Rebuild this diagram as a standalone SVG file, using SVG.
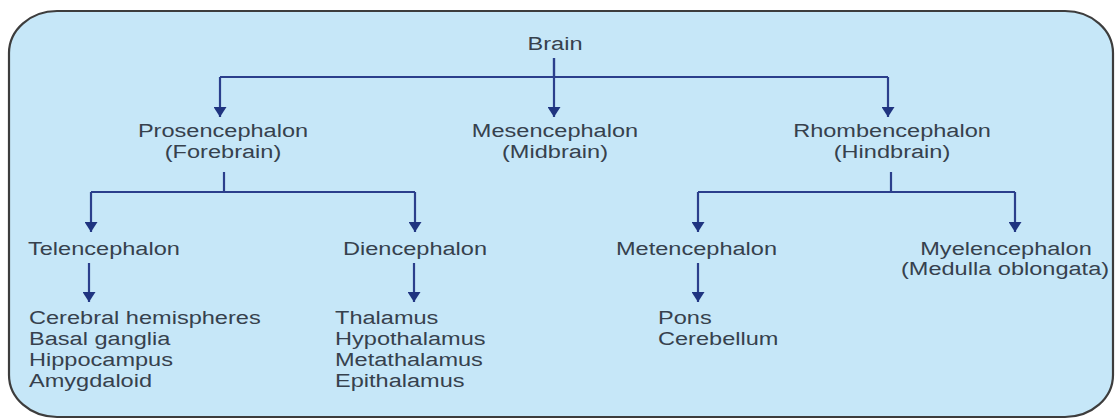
<svg xmlns="http://www.w3.org/2000/svg" width="1117" height="420" viewBox="0 0 1117 420">
<style>
.t{font-family:"Liberation Sans",Arial,sans-serif;font-size:19px;fill:#36414d}
.c{text-anchor:middle}
.ln{stroke:#2b3f8c;stroke-width:2.2;fill:none}
.ar{stroke:#2b3f8c;stroke-width:2.2;fill:none;marker-end:url(#ah)}
</style>
<defs>
<marker id="ah" markerUnits="userSpaceOnUse" markerWidth="11" markerHeight="13" viewBox="0 0 11 13" refX="10" refY="6.5" orient="auto">
<path d="M0,0 L10,6.5 L0,13 Z" fill="#1f3480"/>
</marker>
</defs>
<rect x="9" y="11" width="1104" height="406" rx="48" ry="42" fill="#c6e7f8" stroke="#3d3d3d" stroke-width="2.2"/>
<g id="connectors">
<line class="ln" x1="554" y1="58" x2="554" y2="77"/>
<line class="ln" x1="220" y1="77" x2="888" y2="77"/>
<line class="ar" x1="220" y1="77" x2="220" y2="117"/>
<line class="ar" x1="554" y1="58" x2="554" y2="117"/>
<line class="ar" x1="888" y1="77" x2="888" y2="117"/>
<line class="ln" x1="224" y1="172" x2="224" y2="192"/>
<line class="ln" x1="91" y1="192" x2="415" y2="192"/>
<line class="ar" x1="91" y1="192" x2="91" y2="232"/>
<line class="ar" x1="415" y1="192" x2="415" y2="232"/>
<line class="ln" x1="891" y1="172" x2="891" y2="192"/>
<line class="ln" x1="698" y1="192" x2="1015" y2="192"/>
<line class="ar" x1="698" y1="192" x2="698" y2="232"/>
<line class="ar" x1="1015" y1="192" x2="1015" y2="232"/>
<line class="ar" x1="89" y1="263" x2="89" y2="302"/>
<line class="ar" x1="414" y1="263" x2="414" y2="302"/>
<line class="ar" x1="698" y1="263" x2="698" y2="302"/>
</g>
<g id="brain"><text class="t c" transform="translate(555,50) scale(1.24,1)">Brain</text></g>
<g id="prosencephalon">
<text class="t c" transform="translate(223,137) scale(1.24,1)">Prosencephalon</text>
<text class="t c" transform="translate(223,158) scale(1.24,1)">(Forebrain)</text>
</g>
<g id="mesencephalon">
<text class="t c" transform="translate(555,137) scale(1.24,1)">Mesencephalon</text>
<text class="t c" transform="translate(555,158) scale(1.24,1)">(Midbrain)</text>
</g>
<g id="rhombencephalon">
<text class="t c" transform="translate(892,137) scale(1.24,1)">Rhombencephalon</text>
<text class="t c" transform="translate(892,158) scale(1.24,1)">(Hindbrain)</text>
</g>
<g id="telencephalon"><text class="t" transform="translate(28,255) scale(1.24,1)">Telencephalon</text></g>
<g id="diencephalon"><text class="t" transform="translate(343,255) scale(1.24,1)">Diencephalon</text></g>
<g id="metencephalon"><text class="t" transform="translate(616,255) scale(1.24,1)">Metencephalon</text></g>
<g id="myelencephalon">
<text class="t c" transform="translate(1006,255) scale(1.24,1)">Myelencephalon</text>
<text class="t c" transform="translate(1005,275) scale(1.24,1)">(Medulla oblongata)</text>
</g>
<g id="telencephalon-parts">
<text class="t" transform="translate(29,324) scale(1.24,1)">Cerebral hemispheres</text>
<text class="t" transform="translate(29,345) scale(1.24,1)">Basal ganglia</text>
<text class="t" transform="translate(29,366) scale(1.24,1)">Hippocampus</text>
<text class="t" transform="translate(29,387) scale(1.24,1)">Amygdaloid</text>
</g>
<g id="diencephalon-parts">
<text class="t" transform="translate(335,324) scale(1.24,1)">Thalamus</text>
<text class="t" transform="translate(335,345) scale(1.24,1)">Hypothalamus</text>
<text class="t" transform="translate(335,366) scale(1.24,1)">Metathalamus</text>
<text class="t" transform="translate(335,387) scale(1.24,1)">Epithalamus</text>
</g>
<g id="metencephalon-parts">
<text class="t" transform="translate(658,324) scale(1.24,1)">Pons</text>
<text class="t" transform="translate(658,345) scale(1.24,1)">Cerebellum</text>
</g>
</svg>
